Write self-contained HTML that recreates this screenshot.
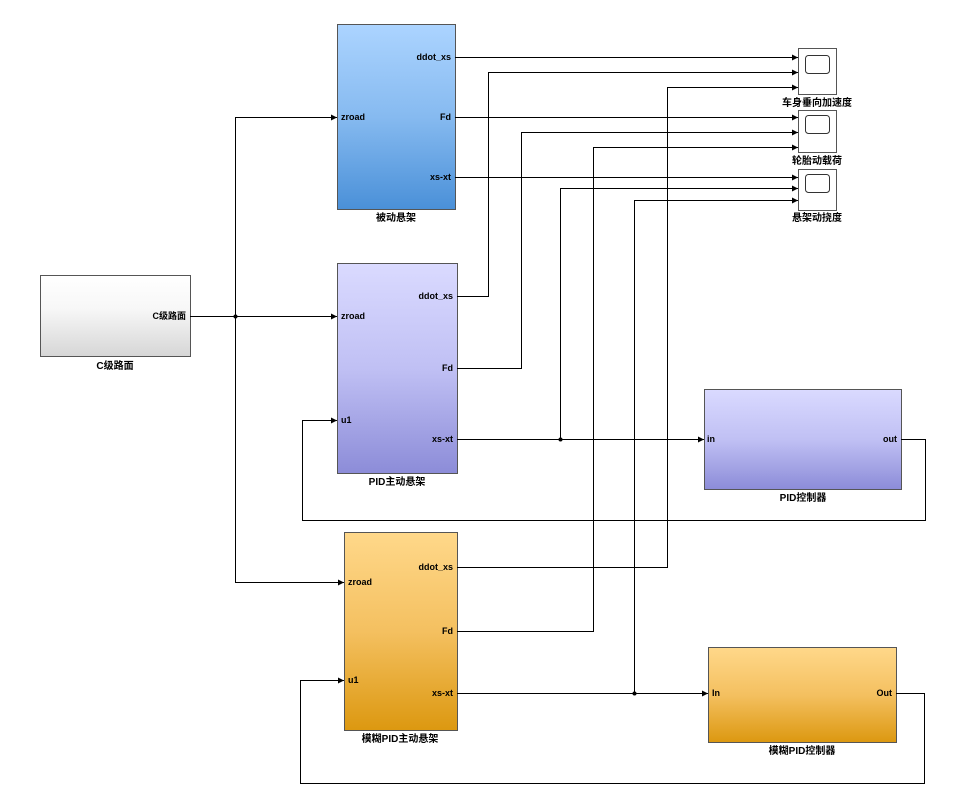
<!DOCTYPE html>
<html><head><meta charset="utf-8"><style>
html,body{margin:0;padding:0;background:#fff;}
svg text{font-family:"Liberation Sans","Noto Sans CJK SC",sans-serif;font-weight:bold;font-size:9px;fill:#000;}
.cap{font-size:10px;}
</style></head><body>
<svg width="958" height="801" viewBox="0 0 958 801" xmlns="http://www.w3.org/2000/svg">
<defs>
<linearGradient id="gb" x1="0" y1="0" x2="0" y2="1"><stop offset="0" stop-color="#acd4ff"/><stop offset="0.5" stop-color="#86baf0"/><stop offset="1" stop-color="#4a90d8"/></linearGradient>
<linearGradient id="gp" x1="0" y1="0" x2="0" y2="1"><stop offset="0" stop-color="#dadaff"/><stop offset="0.5" stop-color="#c0c0f4"/><stop offset="1" stop-color="#8c8cd8"/></linearGradient>
<linearGradient id="gy" x1="0" y1="0" x2="0" y2="1"><stop offset="0" stop-color="#ffd88a"/><stop offset="0.5" stop-color="#f4c060"/><stop offset="1" stop-color="#dc9810"/></linearGradient>
<linearGradient id="gw" x1="0" y1="0" x2="0" y2="1"><stop offset="0" stop-color="#ffffff"/><stop offset="0.4" stop-color="#f8f8f8"/><stop offset="1" stop-color="#d6d6d6"/></linearGradient>
<marker id="a" markerWidth="6" markerHeight="6" refX="6" refY="3" orient="auto" markerUnits="userSpaceOnUse"><path d="M0,0 L6,3 L0,6z" fill="#000"/></marker>
</defs>
<g stroke="#555" stroke-width="1">
<rect x="337.5" y="24.5" width="118" height="185" fill="url(#gb)"/>
<rect x="337.5" y="263.5" width="120" height="210" fill="url(#gp)"/>
<rect x="344.5" y="532.5" width="113" height="198" fill="url(#gy)"/>
<rect x="40.5" y="275.5" width="150" height="81" fill="url(#gw)"/>
<rect x="704.5" y="389.5" width="197" height="100" fill="url(#gp)"/>
<rect x="708.5" y="647.5" width="188" height="95" fill="url(#gy)"/>
<rect x="798.5" y="48.5" width="38" height="46" fill="#fff"/>
<rect x="798.5" y="110.5" width="38" height="42" fill="#fff"/>
<rect x="798.5" y="169.5" width="38" height="41" fill="#fff"/>
</g>
<g stroke="#333" stroke-width="1" fill="none">
<rect x="805.5" y="55.5" width="24" height="18" rx="3"/>
<rect x="805.5" y="115.5" width="24" height="18" rx="3"/>
<rect x="805.5" y="174.5" width="24" height="18" rx="3"/>
</g>
<g stroke="#000" stroke-width="1" fill="none" marker-end="url(#a)">
<path d="M455,57.5 H798"/>
<path d="M455,117.5 H798"/>
<path d="M455,177.5 H798"/>
<path d="M457,296.5 H488.5 V72.5 H798"/>
<path d="M457,368.5 H521.5 V132.5 H798"/>
<path d="M560.5,439.5 V188.5 H798"/>
<path d="M457,439.5 H704"/>
<path d="M457,567.5 H667.5 V87.5 H798"/>
<path d="M457,631.5 H593.5 V147.5 H798"/>
<path d="M634.5,693.5 V200.5 H798"/>
<path d="M457,693.5 H708"/>
<path d="M901,439.5 H925.5 V520.5 H302.5 V420.5 H337"/>
<path d="M896,693.5 H924.5 V783.5 H300.5 V680.5 H344"/>
<path d="M190,316.5 H337"/>
<path d="M235.5,316.5 V117.5 H337"/>
<path d="M235.5,316.5 V582.5 H344"/>
</g>
<g fill="#000"><circle cx="235.5" cy="316.5" r="2"/><circle cx="560.5" cy="439.5" r="2"/><circle cx="634.5" cy="693.5" r="2"/></g>
<text x="451" y="60" text-anchor="end">ddot_xs</text>
<text x="341" y="120">zroad</text>
<text x="451" y="120" text-anchor="end">Fd</text>
<text x="451" y="180" text-anchor="end">xs-xt</text>
<text x="396" y="221" text-anchor="middle" class="cap">被动悬架</text>
<text x="453" y="299" text-anchor="end">ddot_xs</text>
<text x="341" y="319">zroad</text>
<text x="453" y="371" text-anchor="end">Fd</text>
<text x="341" y="423">u1</text>
<text x="453" y="442" text-anchor="end">xs-xt</text>
<text x="397" y="485" text-anchor="middle" class="cap">PID主动悬架</text>
<text x="453" y="570" text-anchor="end">ddot_xs</text>
<text x="348" y="585">zroad</text>
<text x="453" y="634" text-anchor="end">Fd</text>
<text x="348" y="683">u1</text>
<text x="453" y="696" text-anchor="end">xs-xt</text>
<text x="400" y="742" text-anchor="middle" class="cap">模糊PID主动悬架</text>
<text x="186" y="319" text-anchor="end">C级路面</text>
<text x="115" y="369" text-anchor="middle" class="cap">C级路面</text>
<text x="707" y="442">in</text>
<text x="897" y="442" text-anchor="end">out</text>
<text x="803" y="501" text-anchor="middle" class="cap">PID控制器</text>
<text x="712" y="696">In</text>
<text x="892" y="696" text-anchor="end">Out</text>
<text x="802" y="754" text-anchor="middle" class="cap">模糊PID控制器</text>
<text x="817" y="106" text-anchor="middle" class="cap">车身垂向加速度</text>
<text x="817" y="164" text-anchor="middle" class="cap">轮胎动载荷</text>
<text x="817" y="221" text-anchor="middle" class="cap">悬架动挠度</text>
</svg>
</body></html>
